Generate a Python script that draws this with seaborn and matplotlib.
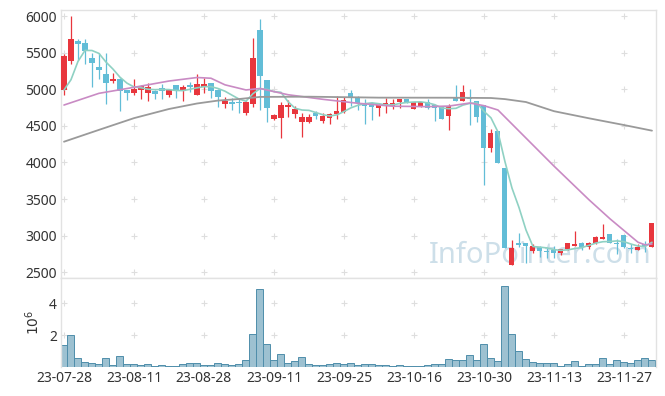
import numpy as np
import pandas as pd
import matplotlib
matplotlib.use('Agg')
import matplotlib.pyplot as plt
import seaborn as sns

# ------------------------------
# data (daily candles, 85 trading days)
# ------------------------------
tick_labels = ['23-07-28', '23-08-11', '23-08-28', '23-09-11', '23-09-25',
               '23-10-16', '23-10-30', '23-11-13', '23-11-27']

opens = [4990, 5380, 5660, 5635, 5430, 5310, 5210, 5115, 5145, 4990,
         4955, 4990, 4955, 4980, 5010, 4925, 5055, 4980, 5055, 4920,
         5035, 5080, 4995, 4800, 4825, 4820, 4680, 4800, 5810, 5125,
         4595, 4612, 4760, 4655, 4557, 4557, 4680, 4570, 4610, 4660,
         4695, 4955, 4900, 4815, 4815, 4750, 4775, 4765, 4830, 4866,
         4735, 4760, 4825, 4780, 4762, 4640, 4885, 4845, 4895, 4840,
         4780, 4200, 4430, 3920, 2600, 2900, 2900, 2795, 2850, 2785,
         2810, 2760, 2815, 2863, 2905, 2840, 2895, 2955, 3020, 2895,
         3010, 2835, 2805, 2880, 2850]
highs = [5480, 6000, 5690, 5680, 5500, 5500, 5490, 5220, 5150, 4995,
         5135, 5060, 5080, 4985, 5070, 4995, 5060, 5060, 5100, 5210,
         5150, 5085, 5000, 4900, 4885, 4870, 4835, 5700, 5960, 5130,
         4660, 4830, 4850, 4770, 4670, 4660, 4700, 4670, 4670, 4905,
         4895, 4990, 4905, 4860, 4820, 4795, 4875, 4860, 4870, 4870,
         4825, 4825, 4865, 4785, 4765, 4795, 5055, 5055, 5000, 4845,
         4790, 4450, 4435, 3925, 2945, 3040, 2905, 2880, 2860, 2830,
         2860, 2820, 2900, 3060, 2910, 2910, 2990, 3160, 3025, 2950,
         3015, 2880, 2880, 2930, 3170]
lows = [4925, 5340, 5400, 5340, 5030, 5140, 4800, 5080, 4705, 4855,
        4920, 4860, 4840, 4860, 4860, 4895, 4880, 4840, 4965, 4915,
        4950, 4880, 4760, 4740, 4710, 4680, 4645, 4760, 4715, 4555,
        4580, 4340, 4620, 4605, 4350, 4535, 4590, 4545, 4525, 4600,
        4680, 4770, 4715, 4525, 4580, 4635, 4670, 4735, 4750, 4815,
        4730, 4755, 4730, 4560, 4590, 4445, 4840, 4840, 4505, 4550,
        3690, 4145, 3995, 2825, 2600, 2850, 2620, 2760, 2710, 2700,
        2700, 2740, 2810, 2855, 2800, 2815, 2890, 2950, 2895, 2750,
        2830, 2760, 2800, 2780, 2850]
closes = [5460, 5680, 5620, 5525, 5360, 5260, 5090, 5140, 4970, 4955,
          5000, 5040, 5035, 4940, 4970, 4990, 4980, 5025, 5030, 5070,
          5070, 4980, 4900, 4845, 4800, 4805, 4830, 5420, 5185, 4750,
          4650, 4785, 4785, 4735, 4625, 4625, 4635, 4635, 4655, 4700,
          4850, 4890, 4810, 4765, 4755, 4790, 4810, 4810, 4866, 4820,
          4820, 4820, 4740, 4740, 4595, 4775, 4845, 4960, 4860, 4625,
          4200, 4400, 3995, 2830, 2825, 2875, 2865, 2860, 2790, 2770,
          2760, 2815, 2895, 2880, 2840, 2905, 2975, 2985, 2895, 2880,
          2850, 2815, 2850, 2860, 3170]
# volume in millions of shares
volumes = [1.37, 1.98, 0.53, 0.30, 0.23, 0.17, 0.53, 0.11, 0.67, 0.17,
           0.17, 0.11, 0.17, 0.06, 0.11, 0.06, 0.06, 0.17, 0.23, 0.23,
           0.11, 0.11, 0.23, 0.17, 0.11, 0.17, 0.40, 2.04, 4.88, 1.41,
           0.40, 0.80, 0.23, 0.34, 0.59, 0.17, 0.10, 0.10, 0.17, 0.23,
           0.17, 0.23, 0.11, 0.17, 0.17, 0.11, 0.11, 0.05, 0.10, 0.02,
           0.03, 0.06, 0.10, 0.17, 0.17, 0.46, 0.40, 0.40, 0.72, 0.40,
           1.41, 0.53, 0.34, 5.07, 2.04, 0.97, 0.46, 0.27, 0.21, 0.21,
           0.21, 0.06, 0.15, 0.34, 0.04, 0.15, 0.15, 0.53, 0.15, 0.40,
           0.27, 0.23, 0.40, 0.53, 0.40]

ma5_head = [4990, 5130, 5380, 5530]
ma20_day = [0, 5, 10, 15, 19, 21, 23, 26, 28, 32, 37, 42, 47, 52, 55, 58, 60,
            62, 70, 75, 78, 80, 82, 83, 84]
ma20 = [4784, 4944, 5026, 5112, 5160, 5150, 5060, 4990, 5010, 4925, 4862,
        4808, 4768, 4762, 4770, 4812, 4775, 4716, 3950, 3490, 3230, 3070,
        2910, 2875, 2885]
ma60_day = [0, 5, 10, 15, 19, 22, 25, 28, 35, 45, 55, 61, 63, 66, 70, 75, 80, 84]
ma60 = [4283, 4445, 4605, 4730, 4805, 4845, 4866, 4895, 4898, 4885, 4884,
        4880, 4865, 4825, 4700, 4603, 4511, 4434]

df = pd.DataFrame({'open': opens, 'high': highs, 'low': lows,
                   'close': closes, 'volume': volumes})
df['day'] = np.arange(len(df))
df['ma5'] = df['close'].rolling(5).mean()
df.loc[:3, 'ma5'] = ma5_head

RED = '#e8363d'
BLUE = '#62bdd7'
GRID = '#dedede'

# ------------------------------
# figure
# ------------------------------
sns.set_style('white')
plt.rcParams['font.family'] = ['Noto Sans', 'DejaVu Sans']

fig = plt.figure(figsize=(6.65, 3.96), dpi=100)
ax = fig.add_axes([0.0917, 0.2972, 0.8947, 0.6775])
axv = fig.add_axes([0.0917, 0.074, 0.8947, 0.2232])

# watermark behind everything
ax.text(0.805, 0.085, 'InfoPointer.com', transform=ax.transAxes, ha='center',
        va='center', fontsize=21, color='#cddfe9', zorder=0)

# candles
up = df['close'] >= df['open']
cols = np.where(up, RED, BLUE)
ax.vlines(df['day'], df['low'], df['high'], colors=cols, lw=0.9, zorder=3)
body = (df['close'] - df['open']).abs().clip(lower=15)
ax.bar(df['day'], body, bottom=df[['open', 'close']].min(axis=1), width=0.72,
       color=cols, linewidth=0, zorder=3)

# moving averages
sns.lineplot(x=df['day'], y=df['ma5'], ax=ax, color='#8fd1c3', lw=1.2, zorder=4)
sns.lineplot(x=ma20_day, y=ma20, ax=ax, color='#c98bc4', lw=1.2, zorder=4)
sns.lineplot(x=ma60_day, y=ma60, ax=ax, color='#9a9a9a', lw=1.3, zorder=4)

# volume
sns.barplot(data=df, x='day', y='volume', native_scale=True, width=1,
            color='#9dc1d1', edgecolor='#4f8eab', linewidth=0.7,
            saturation=1, errorbar=None, ax=axv)

n = len(df)
xticks = np.arange(0, n, 10)
price_ticks = np.arange(2500, 6001, 500)
vol_ticks = [2, 4]

for a in (ax, axv):
    a.set_xlim(-0.43, n - 0.43)
    a.set_xticks(xticks)
    a.tick_params(length=0, labelsize=10, colors='#333333', pad=3)
    a.set_xlabel('')
    a.set_ylabel('')
    for s in a.spines.values():
        s.set_color('#e2e2e2')
        s.set_linewidth(1)

ax.set_ylim(2417, 6082)
ax.set_yticks(price_ticks)
ax.set_xticklabels([])

axv.set_ylim(0, 5.58)
axv.set_yticks(vol_ticks)
axv.set_yticklabels(['2', '4'])
axv.set_xticklabels(tick_labels)
axv.set_ylabel('$10^6$', fontsize=10, color='#333333', labelpad=4)
axv.spines['bottom'].set_visible(False)

# little "+" marks at the grid crossings
gx, gy = np.meshgrid(xticks, price_ticks)
ax.scatter(gx.ravel(), gy.ravel(), marker='+', s=18, color=GRID, lw=0.8, zorder=1)
gx, gy = np.meshgrid(xticks, vol_ticks)
axv.scatter(gx.ravel(), gy.ravel(), marker='+', s=18, color=GRID, lw=0.8, zorder=0)

fig.savefig('out.png', dpi=100)
